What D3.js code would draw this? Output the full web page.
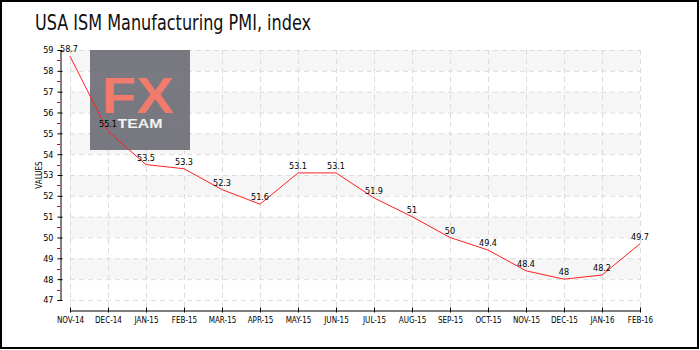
<!DOCTYPE html>
<html><head><meta charset="utf-8">
<script src="https://cdn.jsdelivr.net/npm/d3@7"></script>
<style>body{margin:0;background:#fff}svg{display:block}</style>
</head><body>
<svg id="c" width="700" height="350"></svg>
<script>
const months = ["NOV-14","DEC-14","JAN-15","FEB-15","MAR-15","APR-15","MAY-15","JUN-15","JUL-15","AUG-15","SEP-15","OCT-15","NOV-15","DEC-15","JAN-16","FEB-16"];
const values = [58.7,55.1,53.5,53.3,52.3,51.6,53.1,53.1,51.9,51,50,49.4,48.4,48,48.2,49.7];
const yTicks = [47,48,49,50,51,52,53,54,55,56,57,58,59];
const title = "USA ISM Manufacturing PMI, index";

const svg = d3.select("#c");
const font = "'DejaVu Sans Condensed','DejaVu Sans',sans-serif";
const x = d3.scalePoint().domain(months).range([70, 640]);
const y = d3.scaleLinear().domain([47, 59]).range([300, 50]);

// bands
const bands = yTicks.filter(v => v < 59 && v % 2 === 0);
svg.append("g").selectAll("rect").data(bands).join("rect")
  .attr("x", 70).attr("width", 570)
  .attr("y", d => y(d + 1)).attr("height", d => y(d) - y(d + 1))
  .attr("fill", "#f6f6f6");

// grid
const grid = svg.append("g").attr("stroke", "#dcdcdc").attr("stroke-dasharray", "5,4").attr("stroke-width", 1);
grid.selectAll("line.h").data(yTicks).join("line").attr("class","h")
  .attr("x1", 70).attr("x2", 640).attr("y1", d => y(d) + 0.5).attr("y2", d => y(d) + 0.5);
grid.selectAll("line.v").data(months).join("line").attr("class","v")
  .attr("x1", d => x(d) + 0.5).attr("x2", d => x(d) + 0.5).attr("y1", 50).attr("y2", 310);

// logo
const logo = svg.append("g").attr("opacity", 0.93);
logo.append("rect").attr("x", 90).attr("y", 50).attr("width", 100).attr("height", 100).attr("fill", "#6f6f78");
logo.append("text").attr("x", 138).attr("y", 113).attr("text-anchor", "middle")
  .attr("font-family", "'Liberation Sans',Arial,sans-serif").attr("font-weight", "bold").attr("font-size", 50)
  .attr("textLength", 72).attr("lengthAdjust", "spacingAndGlyphs").attr("fill", "#f07262").text("FX");
logo.append("text").attr("x", 140).attr("y", 128).attr("text-anchor", "middle")
  .attr("font-family", "'Liberation Sans',Arial,sans-serif").attr("font-weight", "bold").attr("font-size", 13)
  .attr("textLength", 45).attr("lengthAdjust", "spacingAndGlyphs").attr("fill", "#f2f2f2").text("TEAM");

// y axis
const yAxis = d3.axisLeft(y).tickValues(yTicks).tickSize(3).tickPadding(4).tickFormat(d3.format("d"));
const ya = svg.append("g").attr("transform", "translate(60.5,0)").call(yAxis);
ya.select(".domain").attr("stroke", "#000");
ya.selectAll(".tick line").attr("x2", -3).attr("x1", 2).attr("stroke", "#000");
ya.selectAll("text").attr("font-family", font).attr("font-size", 9).attr("fill", "#000");
// minor red ticks
svg.append("g").selectAll("line").data(yTicks.slice(0, -1).map(v => v + 0.5)).join("line")
  .attr("x1", 57).attr("x2", 60).attr("y1", d => Math.round(y(d)) + 0.5).attr("y2", d => Math.round(y(d)) + 0.5)
  .attr("stroke", "#e00000");

// x axis
const xAxis = d3.axisBottom(x).tickSize(2).tickPadding(5).tickSizeOuter(0);
const xa = svg.append("g").attr("transform", "translate(0,310.5)").call(xAxis);
xa.select(".domain").attr("stroke", "#000");
xa.selectAll(".tick line").attr("y1", -3).attr("y2", 2).attr("stroke", "#000");
xa.selectAll("text").attr("font-family", font).attr("font-size", 8).attr("fill", "#000");

// line
svg.append("path").datum(values)
  .attr("d", d3.line().x((d, i) => x(months[i])).y(d => y(d)))
  .attr("fill", "none").attr("stroke", "#ff2020").attr("stroke-width", 1);

// value labels
svg.append("g").selectAll("text").data(values).join("text")
  .attr("x", (d, i) => x(months[i]) + (i === 0 ? -1 : 0)).attr("y", d => y(d) - 4)
  .attr("text-anchor", "middle").attr("font-family", font).attr("font-size", 9).attr("fill", "#000")
  .text(d => d3.format("")(d));

// y label
svg.append("text").attr("transform", "translate(42,175) rotate(-90)").attr("text-anchor", "middle")
  .attr("font-family", font).attr("font-size", 8).attr("fill", "#000").text("VALUES");

// title
svg.append("text").attr("x", 35).attr("y", 30).attr("font-family", font).attr("font-size", 21)
  .attr("textLength", 276).attr("lengthAdjust", "spacingAndGlyphs")
  .attr("fill", "#111").text(title);

// frame
svg.append("rect").attr("x", 1).attr("y", 1).attr("width", 697).attr("height", 347)
  .attr("fill", "none").attr("stroke", "#000").attr("stroke-width", 2);
</script>
</body></html>
